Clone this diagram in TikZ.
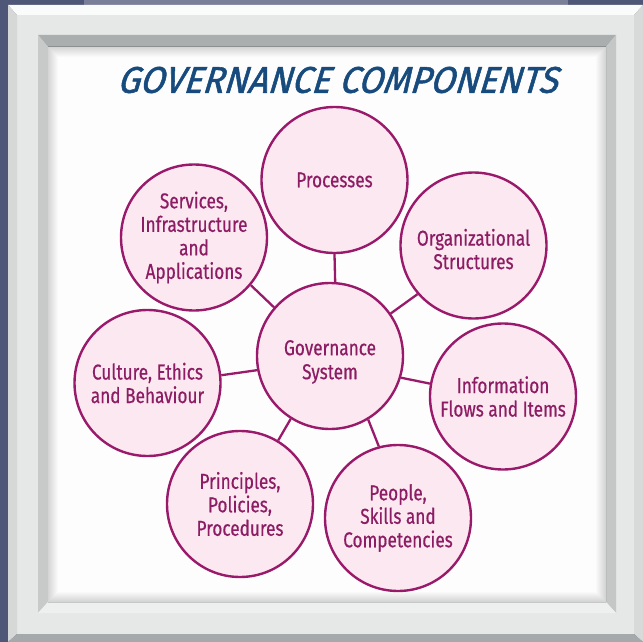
\documentclass[tikz,border=0pt]{standalone}
\usepackage{fontspec}
\setmainfont{Fira Sans}
\newfontfamily\circfont{Fira Sans}[FakeStretch=0.8,FakeBold=0.5]
\newfontfamily\titlefont{Fira Sans}[FakeSlant=0.32,FakeBold=1.5]
\definecolor{bgdark}{HTML}{4F5779}
\definecolor{bglight}{HTML}{797E99}
\definecolor{frameface}{HTML}{E6E8E7}
\definecolor{frametop}{HTML}{FAFBFB}
\definecolor{frameleft}{HTML}{D6D8D8}
\definecolor{frameright}{HTML}{D8DADA}
\definecolor{framebottom}{HTML}{A6A9AB}
\definecolor{innertop}{HTML}{ABAEAF}
\definecolor{innerleft}{HTML}{C8CACA}
\definecolor{innerright}{HTML}{C5C7C7}
\definecolor{innerbottom}{HTML}{EEF0EF}
\definecolor{paper}{HTML}{FDFDFD}
\definecolor{circfill}{HTML}{FCE8F1}
\definecolor{circborder}{HTML}{991A6A}
\definecolor{circtext}{HTML}{8C1C63}
\definecolor{titleblue}{HTML}{184B7D}
\begin{document}
\begin{tikzpicture}[x=1pt,y=-1pt,
  comp/.style={circle, draw=circborder, fill=circfill, line width=2.4pt,
    minimum size=146pt, inner sep=0pt, align=center, text=circtext,
    font=\circfont\fontsize{21.5}{23.5}\selectfont},
  lowered/.style={text height=#1},
  link/.style={draw=circborder, line width=2.3pt}]
\useasboundingbox (0,0) rectangle (643,642);
% background
\fill[bgdark] (0,0) rectangle (643,642);
\fill[bglight] (84,0) rectangle (568,5);
% outer frame
\fill[frameface] (17,15) rectangle (634,634);
\fill[frametop] (8,5) -- (643,5) -- (634,15) -- (17,15) -- cycle;
\fill[frameleft] (8,5) -- (17,15) -- (17,634) -- (8,642) -- cycle;
\fill[frameright] (643,5) -- (634,15) -- (634,634) -- (643,642) -- cycle;
\fill[framebottom] (8,642) -- (17,634) -- (634,634) -- (643,642) -- cycle;
% inner bevel
\fill[innertop] (38,35) -- (616,35) -- (606,47) -- (48,47) -- cycle;
\fill[innerleft] (38,35) -- (48,47) -- (48,602) -- (38,613) -- cycle;
\fill[innerright] (616,35) -- (606,47) -- (606,602) -- (616,613) -- cycle;
\fill[innerbottom] (38,613) -- (48,602) -- (606,602) -- (616,613) -- cycle;
% paper with inner shadow
\begin{scope}
\clip (48,47) rectangle (606,602);
\fill[paper] (48,47) rectangle (606,602);
\foreach \i in {1,...,10} {
  \pgfmathsetmacro\w{2*\i}
  \draw[black, opacity=0.016, line width=\w pt] (48,47) rectangle (606,602);
}
\end{scope}
% title
\node[text=titleblue, inner sep=0pt] (title) at (337,80)
  {\resizebox{440pt}{26pt}{\titlefont GOVERNANCE COMPONENTS}};
% components
\node[comp, lowered=51pt] (gs) at (330,356) {Governance\\[0.5pt]System};
\node[comp] (proc) at (334.5,180) {Processes};
\node[comp, lowered=47.5pt] (org) at (473.5,245.5) {Organizational\\Structures};
\node[comp] (info) at (503,396.5) {Information\\Flows and Items};
\node[comp] (people) at (398,518) {People,\\Skills and\\Competencies};
\node[comp] (princ) at (240,504) {Principles,\\Policies,\\Procedures};
\node[comp] (cult) at (147.5,383) {Culture, Ethics\\and Behaviour};
\node[comp] (serv) at (194,237.5) {Services,\\Infrastructure\\and\\Applications};
% connectors
\draw[link] (proc.-90) -- (gs.86);
\draw[link] (serv.-40) -- (gs.139);
\draw[link] (org.221) -- (gs.35);
\draw[link] (info.170) -- (gs.-17);
\draw[link] (cult.6) -- (gs.191);
\draw[link] (princ.59) -- (gs.238);
\draw[link] (people.105) -- (gs.-59);
\end{tikzpicture}
\end{document}
